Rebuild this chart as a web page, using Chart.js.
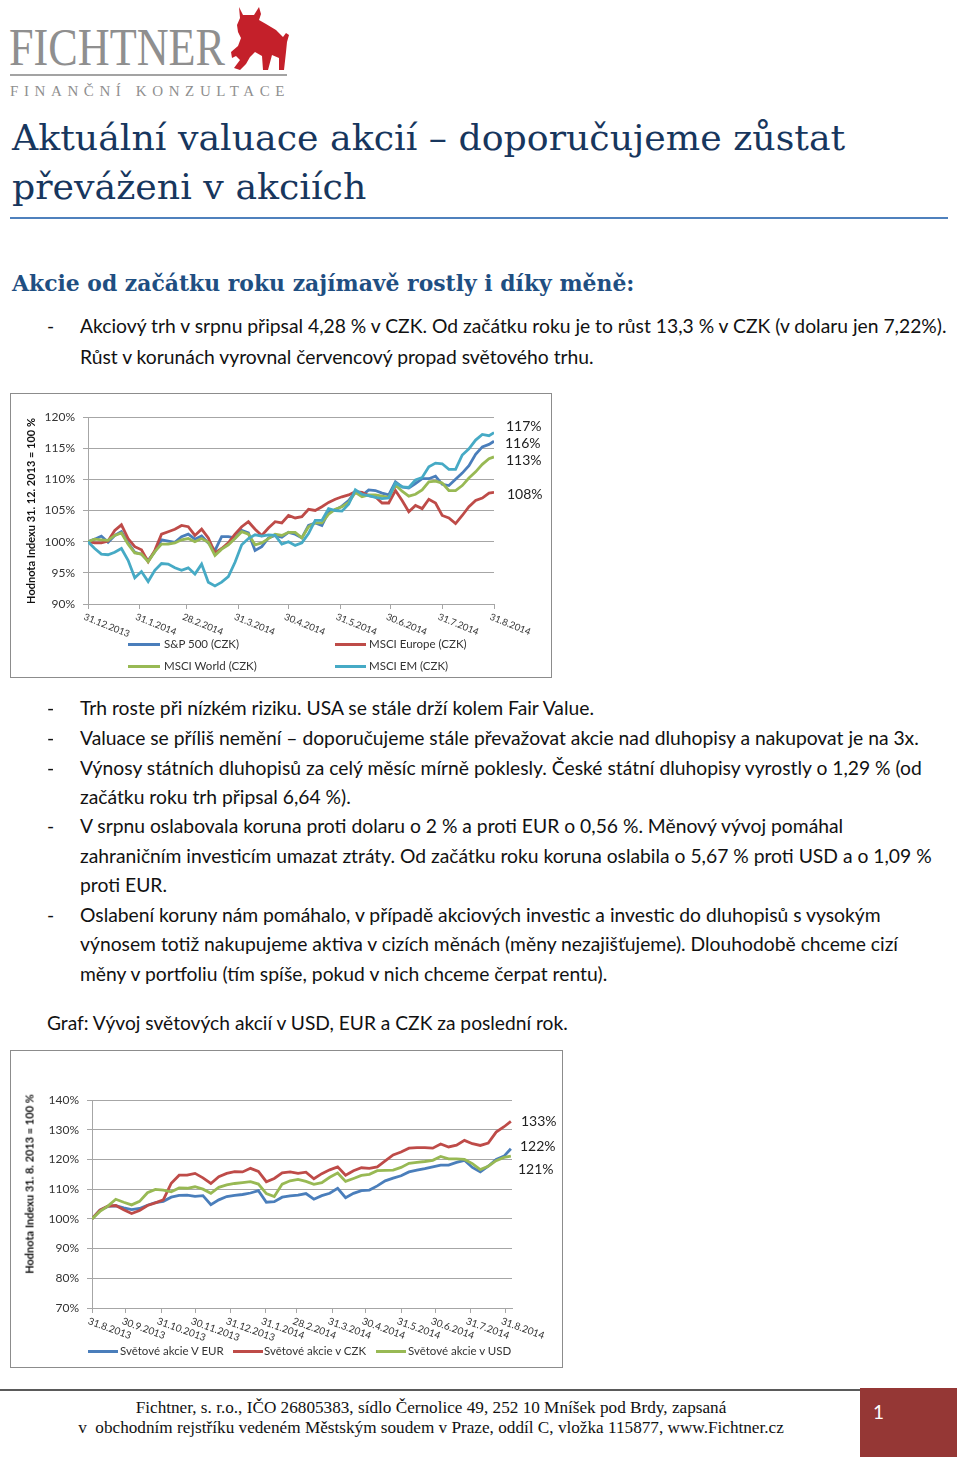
<!DOCTYPE html>
<html lang="cs">
<head>
<meta charset="utf-8">
<title>Aktuální valuace akcií</title>
<script src="https://cdn.jsdelivr.net/npm/chart.js@4.4.1/dist/chart.umd.min.js"></script>
<style>
    html, body { margin: 0; padding: 0; background: #fff; }
    #page { position: relative; width: 960px; height: 1457px; overflow: hidden; font-family: Lato, 'Open Sans', sans-serif; color: #111; }
    .abs { position: absolute; white-space: nowrap; }
    .logo-name { left: 9px; top: 22px; font-family: 'Liberation Serif', serif; font-size: 52px; line-height: 52px; color: #8f8f8f; transform: scaleX(0.85); transform-origin: left top; }
    .logo-rule { left: 10px; top: 74px; width: 277px; height: 2px; background: #a3a3a3; }
    .logo-sub { left: 10px; top: 82px; font-family: 'Liberation Serif', serif; font-size: 15px; line-height: 18px; letter-spacing: 5.6px; color: #8f8f8f; }
    .title { left: 12px; top: 113px; font-family: 'DejaVu Serif', serif; font-size: 36.3px; line-height: 49px; color: #17365d; }
    .title-rule { left: 10px; top: 217px; width: 938px; height: 2px; background: #4f81bd; }
    .subhead { left: 12px; top: 268px; font-family: 'DejaVu Serif', serif; font-weight: bold; font-size: 21.9px; line-height: 30px; color: #1f4f82; }
    .ln { font-size: 19.3px; line-height: 30px; left: 80px; }
    .dash { left: 47px; }
    .box { position: absolute; box-sizing: border-box; border: 1px solid #8c8c8c; background: #fff; }
    canvas { position: absolute; }
    .ytitle { position: absolute; transform: translate(-50%, -50%) rotate(-90deg); font-weight: bold; font-size: 11px; color: #111; white-space: nowrap; }
    .endlab { position: absolute; font-size: 14px; line-height: 16px; color: #222; }
    .leg { position: absolute; font-size: 11.5px; line-height: 14px; color: #333; white-space: nowrap; }
    .legline { position: absolute; height: 3px; }
    .footrule { left: 0; top: 1389px; width: 860px; height: 2px; background: #5a5a5a; }
    .foot { left: 0; top: 1398px; width: 862px; text-align: center; font-family: 'Liberation Serif', serif; font-size: 17.2px; line-height: 20px; color: #111; }
    .pagebox { left: 860px; top: 1388px; width: 97px; height: 69px; background: #953735; }
    .pagenum { left: 873px; top: 1400px; font-size: 19px; line-height: 24px; color: #fff; }
</style>
</head>
<body>
<div id="page">

    <!-- logo -->
    <div class="abs logo-name">FICHTNER</div>
    <svg class="abs" style="left:226px;top:4px" width="66" height="70" viewBox="226 4 66 70">
        <path fill="#c4202a" d="M239,7 L243,15 L254,15 L259,7 L261,14 L259,20 L266,24 L276,30 L283,37 L286,33 L289,35 L287,42 L286,52 L284,70 L279,70 L279,58 L272,55 L268,70 L263,70 L262,56 L255,52 L250,57 L246,64 L240,70 L234,68 L240,60 L236,56 L232,58 L231,52 L238,46 L241,38 L238,32 L237,25 L240,18 Z"/>
    </svg>
    <div class="abs logo-rule"></div>
    <div class="abs logo-sub">FINANČNÍ KONZULTACE</div>

    <div class="abs title">Aktuální valuace akcií – doporučujeme zůstat<br>převáženi v akciích</div>
    <div class="abs title-rule"></div>

    <div class="abs subhead">Akcie od začátku roku zajímavě rostly i díky měně:</div>

    <div class="abs ln dash" style="top:311px">-</div>
    <div class="abs ln" style="top:311px">Akciový trh v srpnu připsal 4,28 % v CZK. Od začátku roku je to růst 13,3 % v CZK (v dolaru jen 7,22%).</div>
    <div class="abs ln" style="top:342px">Růst v korunách vyrovnal červencový propad světového trhu.</div>

    <!-- chart 1 -->
    <div class="box" style="left:10px;top:393px;width:542px;height:285px"></div>
    <canvas id="chart1" width="542" height="285" style="left:10px;top:393px"></canvas>
    <div class="ytitle" style="left:30px;top:511px">Hodnota Indexu 31. 12. 2013 = 100 %</div>
    <div class="endlab" style="left:506px;top:418px">117%</div>
    <div class="endlab" style="left:505px;top:435px">116%</div>
    <div class="endlab" style="left:506px;top:452px">113%</div>
    <div class="endlab" style="left:507px;top:486px">108%</div>
    <div class="legline" style="left:128px;top:643px;width:32px;background:#4a7ebb"></div>
    <div class="leg" style="left:164px;top:637px">S&amp;P 500 (CZK)</div>
    <div class="legline" style="left:335px;top:643px;width:31px;background:#be4b48"></div>
    <div class="leg" style="left:369px;top:637px">MSCI Europe (CZK)</div>
    <div class="legline" style="left:128px;top:665px;width:32px;background:#98b954"></div>
    <div class="leg" style="left:164px;top:659px">MSCI World (CZK)</div>
    <div class="legline" style="left:335px;top:665px;width:31px;background:#46aac5"></div>
    <div class="leg" style="left:369px;top:659px">MSCI EM (CZK)</div>

    <div class="abs ln dash" style="top:693px">-</div>
    <div class="abs ln" style="top:693px">Trh roste při nízkém riziku. USA se stále drží kolem Fair Value.</div>
    <div class="abs ln dash" style="top:723px">-</div>
    <div class="abs ln" style="top:723px">Valuace se příliš nemění – doporučujeme stále převažovat akcie nad dluhopisy a nakupovat je na 3x.</div>
    <div class="abs ln dash" style="top:753px">-</div>
    <div class="abs ln" style="top:753px">Výnosy státních dluhopisů za celý měsíc mírně poklesly. České státní dluhopisy vyrostly o 1,29 % (od</div>
    <div class="abs ln" style="top:782px">začátku roku trh připsal 6,64 %).</div>
    <div class="abs ln dash" style="top:811px">-</div>
    <div class="abs ln" style="top:811px">V srpnu oslabovala koruna proti dolaru o 2 % a proti EUR o 0,56 %. Měnový vývoj pomáhal</div>
    <div class="abs ln" style="top:841px">zahraničním investicím umazat ztráty. Od začátku roku koruna oslabila o 5,67 % proti USD a o 1,09 %</div>
    <div class="abs ln" style="top:870px">proti EUR.</div>
    <div class="abs ln dash" style="top:900px">-</div>
    <div class="abs ln" style="top:900px">Oslabení koruny nám pomáhalo, v případě akciových investic a investic do dluhopisů s vysokým</div>
    <div class="abs ln" style="top:929px">výnosem totiž nakupujeme aktiva v cizích měnách (měny nezajišťujeme). Dlouhodobě chceme cizí</div>
    <div class="abs ln" style="top:959px">měny v portfoliu (tím spíše, pokud v nich chceme čerpat rentu).</div>

    <div class="abs ln" style="top:1008px;left:47px;font-size:19.2px">Graf: Vývoj světových akcií v USD, EUR a CZK za poslední rok.</div>

    <!-- chart 2 -->
    <div class="box" style="left:10px;top:1050px;width:553px;height:318px"></div>
    <canvas id="chart2" width="553" height="318" style="left:10px;top:1050px"></canvas>
    <div class="ytitle" style="left:29px;top:1184px">Hodnota Indexu 31. 8. 2013 = 100 %</div>
    <div class="endlab" style="left:521px;top:1113px">133%</div>
    <div class="endlab" style="left:520px;top:1138px">122%</div>
    <div class="endlab" style="left:518px;top:1161px">121%</div>
    <div class="legline" style="left:88px;top:1350px;width:30px;background:#4a7ebb"></div>
    <div class="leg" style="left:120px;top:1344px">Světové akcie V EUR</div>
    <div class="legline" style="left:233px;top:1350px;width:30px;background:#be4b48"></div>
    <div class="leg" style="left:264px;top:1344px">Světové akcie v CZK</div>
    <div class="legline" style="left:376px;top:1350px;width:30px;background:#98b954"></div>
    <div class="leg" style="left:408px;top:1344px">Světové akcie v USD</div>

    <!-- footer -->
    <div class="abs footrule"></div>
    <div class="abs foot">Fichtner, s. r.o., IČO 26805383, sídlo Černolice 49, 252 10 Mníšek pod Brdy, zapsaná<br>v&nbsp; obchodním rejstříku vedeném Městským soudem v Praze, oddíl C, vložka 115877, www.Fichtner.cz</div>
    <div class="abs pagebox"></div>
    <div class="abs pagenum">1</div>
</div>

<script>
// chart 1: days since 31.12.2013
const days1 = [ 0, 4, 8, 12, 16, 20, 24, 28, 32, 36, 40, 44, 48, 52, 56, 60, 64, 68, 72, 76, 80, 84, 88, 92, 96, 100, 104, 108, 112, 116, 120,
    124, 128, 132, 136, 140, 144, 148, 152, 156, 160, 164, 168, 172, 176, 180, 184, 188, 192, 196, 200, 204, 208, 212, 216, 220, 224, 228, 232, 236, 240, 243 ];

const sp500 = [ 100, 100.4, 100.9, 99.9, 101.0, 101.6, 99.8, 98.3, 98.0, 97.0, 98.4, 100.3, 100.1, 99.9, 100.8, 101.2, 100.4, 100.9, 99.8, 98.6, 100.8, 100.8, 100.6, 101.8, 101.4, 98.6, 99.2, 100.6, 101.0, 100.7, 101.5,
    101.2, 100.6, 102.6, 103.0, 102.6, 104.8, 105.1, 105.7, 106.6, 108.0, 107.4, 108.3, 108.2, 107.8, 107.5, 109.6, 108.8, 108.6, 109.3, 110.1, 110.1, 110.5, 109.2, 109.0, 110.0, 111.0, 112.2, 114.0, 115.2, 115.6, 116.1 ];

const msciEurope = [ 100, 99.8, 99.8, 100.1, 101.8, 102.7, 100.5, 99.2, 98.7, 96.8, 98.6, 101.2, 101.6, 102.0, 102.6, 102.4, 101.0, 102.0, 100.6, 98.2, 98.9, 99.8, 101.2, 102.4, 103.2, 102.0, 101.0, 102.2, 103.2, 103.0, 104.2,
    103.8, 104.0, 105.2, 105.0, 105.6, 106.3, 106.8, 107.2, 107.5, 108.0, 107.9, 107.4, 107.2, 106.2, 106.2, 108.2, 106.6, 104.8, 105.8, 105.3, 106.8, 106.2, 104.2, 103.8, 102.9, 104.2, 105.6, 106.6, 107.0, 107.8, 107.9 ];

const msciWorld = [ 100, 100.4, 100.3, 100.2, 101.0, 101.4, 99.6, 98.2, 98.0, 96.8, 98.4, 99.6, 99.6, 99.8, 100.3, 100.5, 100.0, 100.5, 99.9, 97.8, 98.8, 99.5, 100.5, 101.6, 101.2, 99.5, 99.8, 100.5, 101.2, 101.0, 101.5,
    101.5, 100.6, 102.4, 103.0, 103.0, 104.4, 105.2, 105.6, 106.3, 107.9, 107.2, 107.5, 107.5, 107.3, 107.1, 109.1, 108.1, 107.3, 107.6, 108.3, 109.6, 109.7, 109.4, 108.2, 108.2, 109.0, 110.2, 111.2, 112.4, 113.3, 113.6 ];

const msciEM = [ 100, 98.9, 98.0, 97.9, 98.3, 98.9, 97.0, 94.2, 95.2, 93.6, 95.4, 96.5, 96.4, 95.8, 95.4, 95.8, 94.8, 96.4, 93.5, 92.9, 93.5, 94.4, 96.7, 99.5, 100.5, 101.1, 100.9, 101.1, 101.0, 99.6, 100.0,
    99.4, 99.8, 101.3, 103.4, 103.4, 105.3, 105.0, 104.9, 106.0, 108.3, 107.6, 107.4, 107.1, 106.9, 107.0, 109.4, 108.8, 108.7, 109.9, 110.3, 112.0, 112.6, 112.5, 111.6, 111.6, 113.9, 114.9, 116.3, 117.2, 117.0, 117.5 ];

const ticks1 = [ 0, 31, 59, 90, 120, 151, 181, 212, 243 ];
const tickLabels1 = [ '31.12.2013', '31.1.2014', '28.2.2014', '31.3.2014', '30.4.2014', '31.5.2014', '30.6.2014', '31.7.2014', '31.8.2014' ];

// chart 2: days since 31.8.2013
const days2 = [ 0, 7, 14, 21, 28, 35, 42, 49, 56, 63, 70, 77, 84, 91, 98, 105, 112, 119, 126, 133, 140, 147, 154, 161, 168, 175, 182,
    189, 196, 203, 210, 217, 224, 231, 238, 245, 252, 259, 266, 273, 280, 287, 294, 301, 308, 315, 322, 329, 336, 343, 350, 357, 364, 370 ];

const worldEur = [ 100, 102.9, 104.2, 104.4, 103.7, 103.1, 103.5, 104.6, 105.5, 105.9, 107.3, 107.9, 108.0, 107.6, 107.8, 104.8, 106.4, 107.5, 107.9, 108.2, 108.7, 109.5, 105.6, 105.8, 107.3, 107.7, 108.0,
    108.5, 106.6, 107.8, 108.6, 110.3, 107.1, 108.6, 109.5, 109.7, 111.1, 112.8, 113.7, 114.5, 115.8, 116.4, 116.9, 117.5, 118.1, 118.1, 119.0, 119.7, 117.3, 115.8, 117.7, 120.0, 121.1, 123.6 ];

const worldCzk = [ 100, 102.9, 104.3, 104.5, 103.1, 101.8, 102.8, 104.5, 105.4, 106.4, 112.0, 114.7, 114.7, 115.3, 113.8, 111.9, 114.2, 115.3, 115.9, 115.8, 117.0, 116.0, 112.5, 113.6, 115.5, 115.8, 115.3,
    115.7, 113.5, 115.2, 116.5, 117.5, 114.7, 116.2, 117.2, 117.0, 117.5, 119.5, 121.5, 122.5, 123.8, 124.0, 124.0, 123.8, 125.2, 124.2, 124.8, 126.4, 125.3, 124.7, 125.5, 129.2, 131.0, 132.8 ];

const worldUsd = [ 100, 102.5, 104.3, 106.6, 105.6, 104.7, 105.9, 108.8, 109.9, 109.7, 109.1, 110.4, 110.3, 110.8, 110.0, 108.6, 110.6, 111.4, 111.9, 112.2, 112.5, 111.7, 108.5, 107.5, 111.7, 112.8, 113.3,
    112.6, 111.6, 112.2, 114.0, 115.4, 112.6, 113.6, 114.6, 115.0, 116.2, 116.3, 116.4, 117.3, 118.7, 119.0, 119.3, 119.7, 121.0, 120.2, 120.2, 120.0, 118.6, 116.6, 117.7, 119.6, 120.7, 121.1 ];

const ticks2 = [ 0, 30, 61, 91, 122, 153, 181, 212, 242, 273, 303, 334, 365 ];
const tickLabels2 = [ '31.8.2013', '30.9.2013', '31.10.2013', '30.11.2013', '31.12.2013', '31.1.2014', '28.2.2014', '31.3.2014', '30.4.2014', '31.5.2014', '30.6.2014', '31.7.2014', '31.8.2014' ];

const BLUE = '#4a7ebb', RED = '#be4b48', GREEN = '#98b954', CYAN = '#46aac5';
const GRID = '#a6a6a6';

function series( label, days, values, color, order )
{
    return {
        label: label,
        data: days.map( ( d, i ) => ( { x: d, y: values[ i ] } ) ),
        borderColor: color,
        backgroundColor: color,
        borderWidth: 2.8,
        pointRadius: 0,
        tension: 0,
        order: order
    };
}

// slanted date labels under the x axis
function dateLabels( ticks, labels, font, dx, dy, angle )
{
    return {
        id: 'dateLabels',
        afterDraw( chart )
        {
            const ctx = chart.ctx;
            const x = chart.scales.x;
            ctx.save();
            ctx.font = font;
            ctx.fillStyle = '#333';
            ctx.textAlign = 'left';
            ctx.textBaseline = 'top';
            ticks.forEach( ( d, i ) => {
                ctx.save();
                ctx.translate( x.getPixelForValue( d ) + dx, x.top + dy );
                ctx.rotate( angle * Math.PI / 180 );
                ctx.fillText( labels[ i ], 0, 0 );
                ctx.restore();
            } );
            ctx.restore();
        }
    };
}

function makeChart( id, datasets, cfg )
{
    return new Chart( document.getElementById( id ), {
        type: 'line',
        data: { datasets: datasets },
        options: {
            responsive: false,
            animation: false,
            events: [],
            layout: { padding: cfg.padding },
            plugins: { legend: { display: false }, tooltip: { enabled: false } },
            scales: {
                x: {
                    type: 'linear',
                    min: cfg.xMin,
                    max: cfg.xMax,
                    afterBuildTicks: s => { s.ticks = cfg.ticks.map( v => ( { value: v } ) ); },
                    afterFit: s => { s.height = 10; },
                    ticks: { display: false },
                    grid: { drawOnChartArea: false, drawTicks: true, tickLength: 5, color: GRID },
                    border: { color: GRID }
                },
                y: {
                    min: cfg.yMin,
                    max: cfg.yMax,
                    afterFit: s => { s.width = cfg.yWidth; },
                    ticks: {
                        stepSize: cfg.step,
                        padding: 8,
                        color: '#333',
                        font: { family: 'Lato', size: 12 },
                        callback: v => v + '%'
                    },
                    grid: { color: GRID, tickLength: 5 },
                    border: { color: GRID }
                }
            }
        },
        plugins: [ dateLabels( cfg.ticks, cfg.tickLabels, cfg.labelFont, -2, 8, cfg.angle ) ]
    } );
}

makeChart( 'chart1', [
    series( 'S&P 500 (CZK)', days1, sp500, BLUE, 4 ),
    series( 'MSCI Europe (CZK)', days1, msciEurope, RED, 3 ),
    series( 'MSCI World (CZK)', days1, msciWorld, GREEN, 2 ),
    series( 'MSCI EM (CZK)', days1, msciEM, CYAN, 1 )
], {
    padding: { left: 0, top: 24, right: 58, bottom: 64 },
    xMin: 0, xMax: 243, ticks: ticks1, tickLabels: tickLabels1,
    yMin: 90, yMax: 120, step: 5, yWidth: 78,
    labelFont: '9.5px Lato', angle: 22
} );

makeChart( 'chart2', [
    series( 'Světové akcie V EUR', days2, worldEur, BLUE, 3 ),
    series( 'Světové akcie v CZK', days2, worldCzk, RED, 2 ),
    series( 'Světové akcie v USD', days2, worldUsd, GREEN, 1 )
], {
    padding: { left: 0, top: 50, right: 51, bottom: 50 },
    xMin: 0, xMax: 371, ticks: ticks2, tickLabels: tickLabels2,
    yMin: 70, yMax: 140, step: 10, yWidth: 82,
    labelFont: '10px Lato', angle: 20
} );
</script>
</body>
</html>
